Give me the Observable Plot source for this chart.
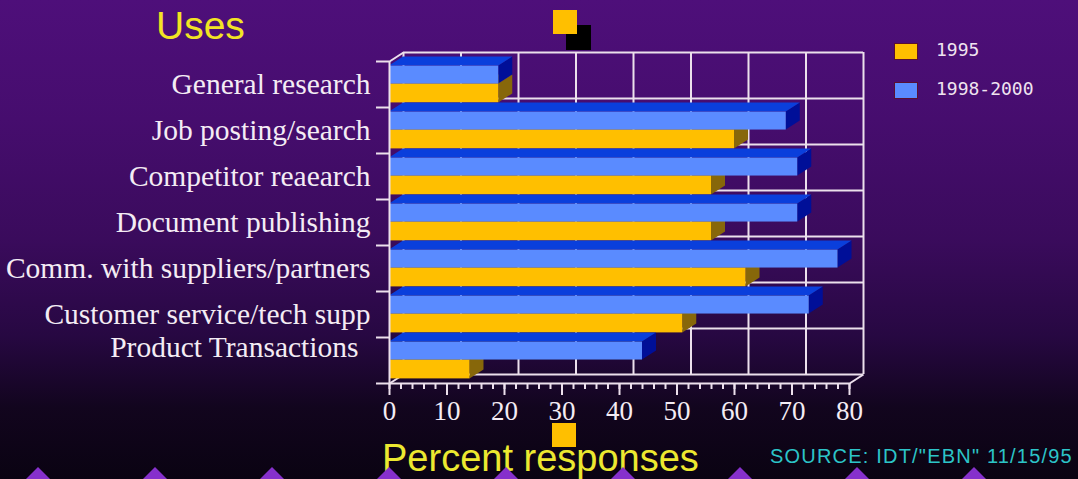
<!DOCTYPE html>
<html>
<head>
<meta charset="utf-8">
<script src="https://cdn.jsdelivr.net/npm/d3@7"></script>
<script src="https://cdn.jsdelivr.net/npm/@observablehq/plot@0.6"></script>
<style>
  html, body { margin: 0; padding: 0; }
  body {
    width: 1078px; height: 479px; overflow: hidden; position: relative;
    background: linear-gradient(to bottom, #4e0f7a 0%, #460d6e 25%, #3a0b5c 50%, #270842 70%, #12051e 85%, #0a0312 100%);
  }
  #chart { position: absolute; left: 0; top: 0; }
  .abs { position: absolute; white-space: nowrap; }
  #title { left: 156px; top: 4px; font: 39px "Liberation Sans", Arial, sans-serif; color: #f2e424; }
  #xlabel { left: 382px; top: 437px; font: 38px "Liberation Sans", Arial, sans-serif; color: #ece830; }
  #source { left: 770px; top: 445px; font: 20px "Liberation Sans", Arial, sans-serif; color: #2cc4c8; letter-spacing: 1.2px; }
  .sq { position: absolute; }
  .legsw { position: absolute; width: 24px; height: 17px; box-sizing: border-box; border: 1px solid #5a1030; }
  .legtx { position: absolute; font: 18px "DejaVu Sans Mono", monospace; color: #f0e4f0; }
  .tri { position: absolute; width: 26px; height: 13px; background: #8630cc; clip-path: polygon(50% 0, 100% 100%, 0 100%); }
</style>
</head>
<body>
<div id="chart"></div>
<div id="title" class="abs">Uses</div>
<div class="sq" style="left:566px;top:25px;width:25px;height:25px;background:#000;"></div>
<div class="sq" style="left:553px;top:10px;width:24px;height:24px;background:#ffbf00;"></div>
<div class="sq" style="left:552px;top:423px;width:24px;height:24px;background:#ffbf00;"></div>
<div id="xlabel" class="abs">Percent responses</div>
<div id="source" class="abs">SOURCE: IDT/"EBN" 11/15/95</div>
<div id="legend"></div>
<div id="tris"></div>
<script>
// ---- data ----
const categories = [
  "General research",
  "Job posting/search",
  "Competitor reaearch",
  "Document publishing",
  "Comm. with suppliers/partners",
  "Customer service/tech supp",
  "Product Transactions"
];
const values1995 = [19, 60, 56, 56, 62, 51, 14];
const values1998 = [19, 69, 71, 71, 78, 73, 44];
const seriesNames = ["1995", "1998-2000"];
const xTicks = [0, 10, 20, 30, 40, 50, 60, 70, 80];
const minorTicks = d3.range(0, 81, 2);

// ---- styling ----
const colors = {
  "1995":      {front: "#ffbf00", side: "#87670a", top: "#c89400"},
  "1998-2000": {front: "#5a8bff", side: "#000f98", top: "#0a3fdc"}
};
const W = 1078, H = 479, ML = 389, MR = 229, MT = 61, MB = 96;
const xMax = 80, nBands = categories.length;
const pxPerX = (W - ML - MR) / xMax;
const pxPerBand = (H - MT - MB) / nBands;
const DX = 14 / pxPerX;      // depth offset in x units
const DY = 9 / pxPerBand;    // depth offset in band units
const lineColor = "#ece0ec";

// series band slots within each category band
const slots = {"1998-2000": [0.10, 0.49], "1995": [0.49, 0.90]};

const bars = [];
seriesNames.forEach(s => {
  const vals = s === "1995" ? values1995 : values1998;
  categories.forEach((c, i) => {
    bars.push({cat: c, series: s, v: vals[i], y1: i + slots[s][0], y2: i + slots[s][1]});
  });
});

function faceMarks(s) {
  const b = bars.filter(d => d.series === s);
  const side = b.flatMap(d => [
    {k: d.cat, x: d.v, y1: d.y1, y2: d.y2},
    {k: d.cat, x: d.v + DX, y1: d.y1 - DY, y2: d.y2 - DY}
  ]);
  const top = b.flatMap(d => [
    {k: d.cat, y: d.y1, x1: 0, x2: d.v},
    {k: d.cat, y: d.y1 - DY, x1: DX, x2: d.v + DX}
  ]);
  return [
    Plot.areaY(side, {x: "x", y1: "y1", y2: "y2", z: "k", fill: colors[s].side}),
    Plot.areaX(top, {y: "y", x1: "x1", x2: "x2", z: "k", fill: colors[s].top}),
    Plot.rect(b, {x1: () => 0, x2: "v", y1: "y1", y2: "y2", fill: colors[s].front})
  ];
}

const bandEdges = d3.range(0, nBands + 1);

const chart = Plot.plot({
  width: W, height: H,
  marginLeft: ML, marginRight: MR, marginTop: MT, marginBottom: MB,
  x: {domain: [0, xMax], label: null},
  y: {domain: [0, nBands], reverse: true, label: null},
  style: {background: "transparent", color: lineColor, fontFamily: "Liberation Serif, serif", overflow: "visible"},
  marks: [
    // back wall grid
    Plot.ruleX(xTicks, {x: d => d + DX, y1: () => -DY, y2: () => nBands - DY, stroke: lineColor, strokeWidth: 2}),
    Plot.ruleY(bandEdges, {y: d => d - DY, x1: () => DX, x2: () => xMax + DX, stroke: lineColor, strokeWidth: 2}),
    // box diagonals
    Plot.link([0], {x1: () => 0, y1: () => 0, x2: () => DX, y2: () => -DY, stroke: lineColor, strokeWidth: 2}),
    Plot.link([0], {x1: () => 0, y1: () => nBands, x2: () => DX, y2: () => nBands - DY, stroke: lineColor, strokeWidth: 2}),
    Plot.link([0], {x1: () => xMax, y1: () => nBands, x2: () => xMax + DX, y2: () => nBands - DY, stroke: lineColor, strokeWidth: 2}),
    // bars
    ...faceMarks("1995"),
    ...faceMarks("1998-2000"),
    // front axes
    Plot.ruleX([0], {y1: () => 0, y2: () => nBands, stroke: lineColor, strokeWidth: 2}),
    Plot.ruleY([nBands], {x1: () => 0, x2: () => xMax, stroke: lineColor, strokeWidth: 2}),
    Plot.axisY({ticks: bandEdges, tickSize: 13, tickFormat: () => "", strokeWidth: 2, label: null}),
    Plot.axisX({ticks: minorTicks, tickSize: 6, tickFormat: () => "", strokeWidth: 2, label: null}),
    Plot.axisX({ticks: xTicks, tickSize: 12, tickPadding: 5, fontSize: 27, strokeWidth: 2, label: null, fill: "#f4ecf4"}),
    // category labels
    Plot.text(categories.slice(0, nBands - 1), {x: () => 0, y: (d, i) => i + 0.5, text: d => d, textAnchor: "end", dx: -19, fontSize: 29.5, fill: "#f4ecf4"}),
    Plot.text(categories.slice(nBands - 1), {x: () => 0, y: () => nBands - 0.5, text: d => d, textAnchor: "end", dx: -31, dy: -13, fontSize: 29.5, fill: "#f4ecf4"})
  ]
});
document.getElementById("chart").appendChild(chart);

// legend
const legend = document.getElementById("legend");
seriesNames.forEach((s, i) => {
  const sw = document.createElement("div");
  sw.className = "legsw";
  sw.style.left = "894px"; sw.style.top = (43 + i * 39) + "px";
  sw.style.background = colors[s].front;
  legend.appendChild(sw);
  const tx = document.createElement("div");
  tx.className = "legtx";
  tx.style.left = "936px"; tx.style.top = (39 + i * 39) + "px";
  tx.textContent = s;
  legend.appendChild(tx);
});

// decorative triangles along the bottom
const tris = document.getElementById("tris");
for (let k = 0; k < 10; k++) {
  const t = document.createElement("div");
  t.className = "tri";
  t.style.left = (38 + k * 117 - 13) + "px";
  t.style.top = "467px";
  tris.appendChild(t);
}
</script>
</body>
</html>
